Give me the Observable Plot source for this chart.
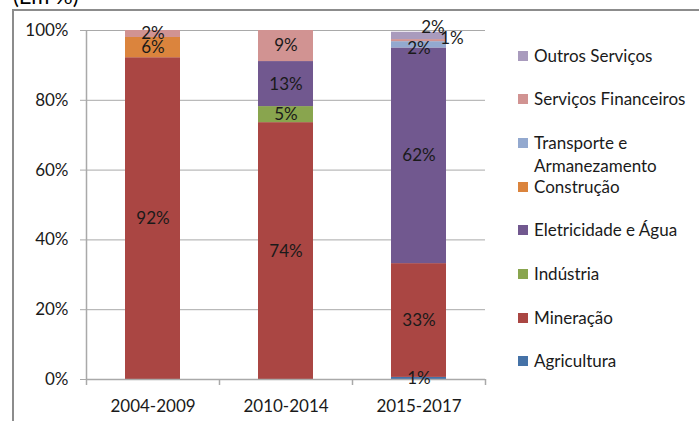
<!DOCTYPE html>
<html>
<head>
<meta charset="utf-8">
<script src="https://cdn.jsdelivr.net/npm/d3@7"></script>
<script src="https://cdn.jsdelivr.net/npm/@observablehq/plot@0.6"></script>
<style>
  html, body { margin: 0; padding: 0; background: #fff; }
  body { width: 699px; height: 421px; overflow: hidden; position: relative; font-family: Lato, "Open Sans", sans-serif; color: #1a1a1a; }
  #frame { position: absolute; left: 12px; top: 9px; width: 720px; height: 440px; border-left: 2px solid #8c8c8c; border-top: 2px solid #8c8c8c; }
  #title { position: absolute; left: 13px; top: -15px; font-size: 22px; line-height: 22px; color: #000; white-space: nowrap; }
  #chart { position: absolute; left: 0; top: 0; }
  #legend { position: absolute; left: 0; top: 0; }
  .item { position: absolute; left: 518px; display: flex; align-items: flex-start; font-size: 17px; line-height: 23px; width: 170px; }
  .sw { width: 10px; height: 10px; margin-top: 7px; margin-right: 6px; flex: none; }
</style>
</head>
<body>
<div id="frame"></div>
<div id="title">(Em %)</div>
<div id="chart"></div>
<div id="legend"></div>
<script>
// ---- data ----
const periods = ["2004-2009", "2010-2014", "2015-2017"];
const sectors = ["Agricultura", "Mineração", "Indústria", "Eletricidade e Água", "Construção", "Transporte e Armanezamento", "Serviços Financeiros", "Outros Serviços"];
const colors  = ["#4572A7", "#AA4643", "#89A54E", "#71588F", "#DB843D", "#93A9CF", "#D19392", "#A99BBD"];
// values per sector, in the order of periods
const agricultura  = [0, 0, 0.6];
const mineracao    = [92.2, 73.6, 32.6];
const industria    = [0, 4.6, 0];
const eletricidade = [0, 12.9, 61.8];
const construcao   = [5.8, 0, 0];
const transporte   = [0, 0, 1.8];
const financeiros  = [2.0, 8.9, 0.6];
const outros       = [0, 0, 2.1];
const yTicks = [0, 20, 40, 60, 80, 100];

const seriesValues = [agricultura, mineracao, industria, eletricidade, construcao, transporte, financeiros, outros];
const data = [];
sectors.forEach((s, i) => periods.forEach((p, j) => data.push({sector: s, period: p, value: seriesValues[i][j]})));

// ---- layout ----
const W = 490, H = 421, mL = 86, mR = 5, mT = 30, mB = 42;
const step = (W - mL - mR) / periods.length;
const gray = "#a9a9a9";
const font = "Lato, 'Open Sans', sans-serif";
const pct = d => Math.round(d.value) + "%";
const isSmall2015 = (d, s) => d.period === "2015-2017" && d.sector === s;
const special = ["Outros Serviços", "Serviços Financeiros", "Transporte e Armanezamento"];

const stackText = () => Plot.stackY({x: "period", y: "value", z: "sector", text: pct});

const chart = Plot.plot({
  width: W, height: H,
  marginLeft: mL, marginRight: mR, marginTop: mT, marginBottom: mB,
  style: {fontFamily: font, fontSize: "17px", color: "#1a1a1a", background: "transparent", overflow: "visible"},
  x: {domain: periods, paddingInner: 0.587, paddingOuter: 0.2935, label: null, tickSize: 0, tickPadding: 20},
  y: {domain: [0, 100], ticks: yTicks, tickFormat: d => d + "%", label: null, tickSize: 0, tickPadding: 18},
  color: {domain: sectors, range: colors},
  marks: [
    Plot.ruleY(yTicks, {stroke: gray, strokeWidth: 1, insetLeft: -6}),
    Plot.barY(data, {x: "period", y: "value", fill: "sector"}),
    // axis lines
    Plot.ruleX([periods[0]], {stroke: gray, strokeWidth: 1.5, dx: -step / 2}),
    Plot.ruleX(periods, {y1: 0, y2: 0, insetBottom: -6, stroke: gray, strokeWidth: 1.5, dx: -step / 2}),
    Plot.ruleX([periods[periods.length - 1]], {y1: 0, y2: 0, insetBottom: -6, stroke: gray, strokeWidth: 1.5, dx: step / 2}),
    Plot.ruleY([0], {stroke: gray, strokeWidth: 1.5}),
    // labels
    Plot.text(data, {...stackText(), filter: d => d.value > 0 && !(d.period === "2015-2017" && special.includes(d.sector)), fill: "#1a1a1a"}),
    Plot.text(data, {...stackText(), filter: d => isSmall2015(d, "Transporte e Armanezamento"), fill: "#1a1a1a", dy: 4}),
    Plot.text(data, {...stackText(), filter: d => isSmall2015(d, "Serviços Financeiros"), fill: "#1a1a1a", dx: 33, dy: -2}),
    Plot.text(data, {...stackText(), filter: d => isSmall2015(d, "Outros Serviços"), fill: "#1a1a1a", dx: 14, dy: -8})
  ]
});
document.getElementById("chart").appendChild(chart);

// ---- legend (reverse stacking order) ----
const legend = document.getElementById("legend");
const firstY = 55, gap = 43.7;
sectors.slice().reverse().forEach((s, k) => {
  const i = sectors.indexOf(s);
  const item = document.createElement("div");
  item.className = "item";
  item.style.top = (firstY + k * gap - 11.5) + "px";
  const sw = document.createElement("div");
  sw.className = "sw";
  sw.style.background = colors[i];
  const tx = document.createElement("div");
  tx.textContent = s;
  item.appendChild(sw);
  item.appendChild(tx);
  legend.appendChild(item);
});
</script>
</body>
</html>
